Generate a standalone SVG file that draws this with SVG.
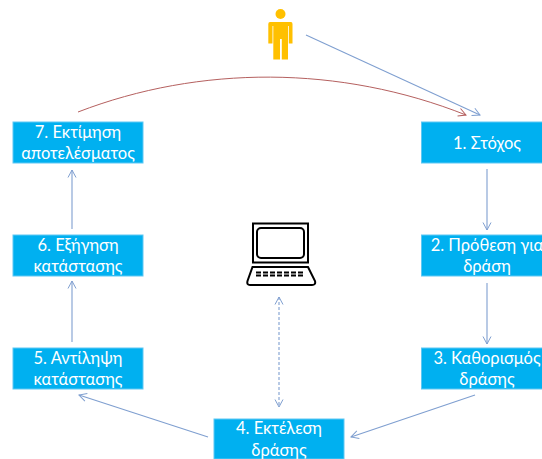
<svg xmlns="http://www.w3.org/2000/svg" width="542" height="459" viewBox="0 0 542 459">
<style>
.box{fill:#00b0f0;stroke:#5ec8f4;stroke-width:1}
.t{font-family:Lato,"Open Sans","Noto Sans",sans-serif;font-size:16.500px;fill:#ffffff;text-anchor:middle}
.c{fill:none;stroke:#7f9fd0;stroke-width:1.1}
</style>
<defs>
<marker id="a" markerWidth="12" markerHeight="12" refX="9" refY="6" orient="auto-start-reverse" markerUnits="userSpaceOnUse"><path d="M1.500 2L9 6L1.500 10" fill="none" stroke="#7f9fd0" stroke-width="1"/></marker>
<marker id="r" markerWidth="12" markerHeight="12" refX="9" refY="6" orient="auto" markerUnits="userSpaceOnUse"><path d="M1.500 2L9 6L1.500 10" fill="none" stroke="#b5605f" stroke-width="1"/></marker>
</defs>
<g id="connectors">
<path class="c" d="M306 35L480 115" marker-end="url(#a)"/>
<path d="M78 112C200 65 340 65 466 115" fill="none" stroke="#b5605f" stroke-width="1" marker-end="url(#r)"/>
<path class="c" d="M487 169V230" marker-end="url(#a)"/>
<path class="c" d="M487 283V344" marker-end="url(#a)"/>
<path class="c" d="M475 395L351 437" marker-end="url(#a)"/>
<path class="c" d="M208 437L79 395" marker-end="url(#a)"/>
<path class="c" d="M72 342V281" marker-end="url(#a)"/>
<path class="c" d="M72 229V170" marker-end="url(#a)"/>
<path class="c" d="M279 297V407" stroke-dasharray="3 2" marker-start="url(#a)" marker-end="url(#a)"/>
</g>
<g id="person" fill="#ffc000">
<circle cx="280.500" cy="14" r="5"/>
<path d="M270 22H291Q292.500 22 292.500 24V43.500H288.800V26H288V59.500H281.800V39H280V59.500H273.300V26H272.500V43.500H268.300V24Q268.300 22 270 22Z"/>
</g>
<g id="computer">
<path d="M253 223.500H308V262.500H253Z" fill="#fff" stroke="#000" stroke-width="2"/>
<rect x="257" y="228" width="47" height="30" rx="4" fill="#fff" stroke="#000" stroke-width="2"/>
<path d="M252.500 267H308L315 281Q316 285 312 285H250Q246.500 285 247.500 281Z" fill="#fff" stroke="#000" stroke-width="2"/>
<path d="M256 272.500H304M256 275.500H304" stroke="#000" stroke-width="2" stroke-dasharray="5 2" fill="none"/>
</g>
<g id="n1"><rect class="box" x="421.500" y="122" width="121" height="41"/><text class="t" x="487" y="149">1. Στόχος</text></g>
<g id="n2"><rect class="box" x="421.500" y="235" width="121" height="41"/><text class="t" x="487" y="251">2. Πρόθεση για</text><text class="t" x="487" y="272">δράση</text></g>
<g id="n3"><rect class="box" x="421.500" y="348" width="121" height="41"/><text class="t" x="487" y="364">3. Καθορισμός</text><text class="t" x="487" y="385">δράσης</text></g>
<g id="n4"><rect class="box" x="214" y="419" width="130" height="40"/><text class="t" x="279" y="434">4. Εκτέλεση</text><text class="t" x="279" y="456">δράσης</text></g>
<g id="n5"><rect class="box" x="13" y="348" width="130" height="41"/><text class="t" x="78" y="364">5. Αντίληψη</text><text class="t" x="78" y="385">κατάστασης</text></g>
<g id="n6"><rect class="box" x="13" y="235" width="130" height="41"/><text class="t" x="78" y="251">6. Εξήγηση</text><text class="t" x="78" y="272">κατάστασης</text></g>
<g id="n7"><rect class="box" x="13" y="122" width="130" height="41"/><text class="t" x="78" y="138">7. Εκτίμηση</text><text class="t" x="78" y="159">αποτελέσματος</text></g>
</svg>
